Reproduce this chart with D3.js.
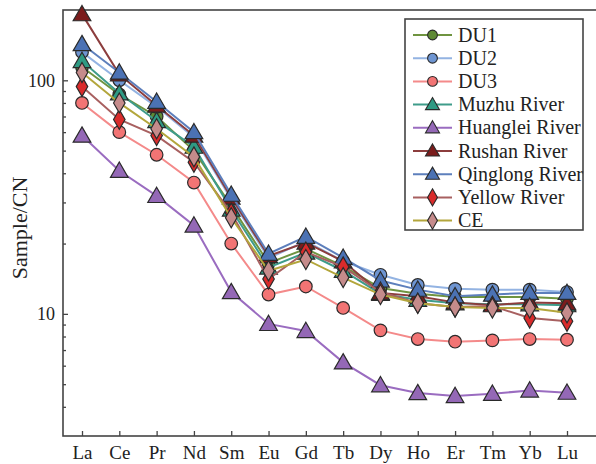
<!DOCTYPE html>
<html>
<head>
<meta charset="utf-8">
<script src="https://cdn.jsdelivr.net/npm/d3@7"></script>
<style>
  body { margin: 0; background: #fff; }
  svg text { font-family: "Liberation Serif", "DejaVu Serif", serif; }
</style>
</head>
<body>
<script>
// REE elements on the x axis
let elements = ["La", "Ce", "Pr", "Nd", "Sm", "Eu", "Gd", "Tb", "Dy", "Ho", "Er", "Tm", "Yb", "Lu"];

// chondrite normalised values
let du1      = [114, 87, 70, 50, 29, 16.5, 19, 16, 12.9, 12.2, 11.8, 11.8, 11.8, 11.6];
let du2      = [132, 100, 77, 57, 31, 17.3, 20.5, 16.8, 14.7, 13.3, 12.8, 12.7, 12.7, 12.4];
let du3      = [80, 60, 48, 36.5, 20, 12.1, 13.1, 10.6, 8.5, 7.8, 7.6, 7.7, 7.8, 7.75];
let muzhu    = [121, 88, 67, 52, 28, 15.8, 18.3, 15.3, 12.2, 11.5, 11.1, 11.0, 11.0, 10.9];
let huanglei = [58, 41, 32, 23.9, 12.4, 9.06, 8.45, 6.2, 4.95, 4.58, 4.45, 4.55, 4.7, 4.6];
let rushan   = [192, 106, 78, 58, 31.5, 17.7, 20.2, 16.8, 12.3, 11.9, 11.2, 10.9, 11.2, 11.1];
let qinglong = [143, 108, 81, 60, 32.4, 18.1, 21.4, 17.4, 13.9, 12.7, 11.9, 12.1, 12.3, 12.3];
let yellow   = [94, 68, 58, 44.6, 27, 14.1, 18.4, 15.9, 12.4, 11.1, 10.7, 10.8, 9.6, 9.3];
let ce       = [108, 80, 62, 47, 25.8, 15.3, 17.1, 14.3, 12.1, 11.1, 10.7, 10.6, 10.6, 10.1];

let seriesNames = ["DU1", "DU2", "DU3", "Muzhu River", "Huanglei River", "Rushan River", "Qinglong River", "Yellow River", "CE"];
let majorTicks = [10, 100];
let minorTicks = [4, 5, 6, 7, 8, 9, 20, 30, 40, 50, 60, 70, 80, 90];

let width = 596;
let height = 464;
let plotLeft = 63, plotTop = 10, plotBottom = 436, plotRight = 600;

let styles = [
    { shape: "circle",   fill: "#5f8a35", line: "#6f9440" },
    { shape: "circle",   fill: "#6e95d2", line: "#93b3e2" },
    { shape: "circle",   fill: "#f27474", line: "#f48a8a" },
    { shape: "triangle", fill: "#2f9a83", line: "#3e9c8a" },
    { shape: "triangle", fill: "#9468b6", line: "#9a6cc0" },
    { shape: "triangle", fill: "#7b1c1c", line: "#8c3d3d" },
    { shape: "triangle", fill: "#4b72b4", line: "#5d7fbc" },
    { shape: "diamond",  fill: "#d92b2b", line: "#a86060" },
    { shape: "diamond",  fill: "#c58b8b", line: "#b3a63c" }
];

let allValues = [du1, du2, du3, muzhu, huanglei, rushan, qinglong, yellow, ce];

let svg = d3.select("body")
    .append("svg")
    .attr("width", width)
    .attr("height", height);

let x = d3.scalePoint().domain(elements).range([82, 567]);
let y = d3.scaleLog().domain([3, 200]).range([plotBottom, plotTop]);

let symbolFor = {
    circle: d3.symbol().type(d3.symbolCircle).size(125),
    triangle: d3.symbol().type(d3.symbolTriangle).size(135),
    diamond: d3.symbol().type(d3.symbolDiamond).size(115)
};

// frame
svg.append("rect")
    .attr("x", plotLeft).attr("y", plotTop)
    .attr("width", plotRight - plotLeft).attr("height", plotBottom - plotTop)
    .attr("fill", "none").attr("stroke", "#444").attr("stroke-width", 1.6);

// y axis, minor then major ticks (inward)
let yMinor = svg.append("g")
    .attr("transform", "translate(" + plotLeft + ",0)")
    .call(d3.axisLeft(y).tickValues(minorTicks).tickSize(-3).tickFormat(""));
yMinor.select(".domain").remove();
yMinor.selectAll("line").attr("stroke", "#444").attr("stroke-width", 1.3);

let yMajor = svg.append("g")
    .attr("transform", "translate(" + plotLeft + ",0)")
    .call(d3.axisLeft(y).tickValues(majorTicks).tickSizeInner(-5).tickSizeOuter(0).tickPadding(8).tickFormat(d3.format("d")));
yMajor.attr("font-family", null);
yMajor.select(".domain").remove();
yMajor.selectAll("line").attr("stroke", "#444").attr("stroke-width", 1.3);
yMajor.selectAll("text").style("font-size", "18px").attr("fill", "#222");

// x axis
let xAxis = svg.append("g")
    .attr("transform", "translate(0," + plotBottom + ")")
    .call(d3.axisBottom(x).tickSizeInner(-5).tickSizeOuter(0).tickPadding(10));
xAxis.attr("font-family", null);
xAxis.select(".domain").remove();
xAxis.selectAll("line").attr("stroke", "#444").attr("stroke-width", 1.3);
xAxis.selectAll("text").style("font-size", "19px").attr("fill", "#222");

svg.append("text")
    .attr("transform", "translate(27," + 228 + ") rotate(-90)")
    .attr("text-anchor", "middle")
    .style("font-size", "22px")
    .attr("fill", "#222")
    .text("Sample/CN");

let line = d3.line()
    .x(function(d, i) { return x(elements[i]); })
    .y(function(d) { return y(d); });

allValues.forEach(function(vals, k) {
    let st = styles[k];
    let g = svg.append("g").attr("class", "series");
    g.append("path")
        .datum(vals)
        .attr("d", line)
        .attr("fill", "none")
        .attr("stroke", st.line)
        .attr("stroke-width", 2);
    g.selectAll("path.mark")
        .data(vals)
        .enter().append("path")
        .attr("class", "mark")
        .attr("transform", function(d, i) {
            let dy = st.shape == "triangle" ? 1.5 : 0;
            return "translate(" + x(elements[i]) + "," + (y(d) + dy) + ")";
        })
        .attr("d", symbolFor[st.shape])
        .attr("fill", st.fill)
        .attr("stroke", "#2a2a2a")
        .attr("stroke-width", 1.2);
});

// legend
let legendX = 405, legendY = 19, rowH = 23.2;
let legend = svg.append("g");
legend.append("rect")
    .attr("x", legendX).attr("y", legendY)
    .attr("width", 178).attr("height", 211)
    .attr("fill", "#fff").attr("stroke", "#444").attr("stroke-width", 1.6);

let items = legend.selectAll("g.item")
    .data(seriesNames)
    .enter().append("g")
    .attr("class", "item")
    .attr("transform", function(d, i) { return "translate(" + legendX + "," + (legendY + 16 + i * rowH) + ")"; });

items.append("line")
    .attr("x1", 8).attr("x2", 47)
    .attr("stroke", function(d, i) { return styles[i].line; })
    .attr("stroke-width", 2);

items.append("path")
    .attr("transform", function(d, i) { return "translate(27.5," + (styles[i].shape == "triangle" ? 1 : 0) + ")"; })
    .attr("d", function(d, i) {
        let s = styles[i].shape;
        return d3.symbol().type(s == "circle" ? d3.symbolCircle : s == "triangle" ? d3.symbolTriangle : d3.symbolDiamond)
            .size(s == "circle" ? 75 : 85)();
    })
    .attr("fill", function(d, i) { return styles[i].fill; })
    .attr("stroke", "#2a2a2a")
    .attr("stroke-width", 1.1);

items.append("text")
    .attr("x", 53)
    .attr("y", 6.5)
    .style("font-size", "20px")
    .attr("fill", "#222")
    .text(function(d) { return d; });
</script>
</body>
</html>
